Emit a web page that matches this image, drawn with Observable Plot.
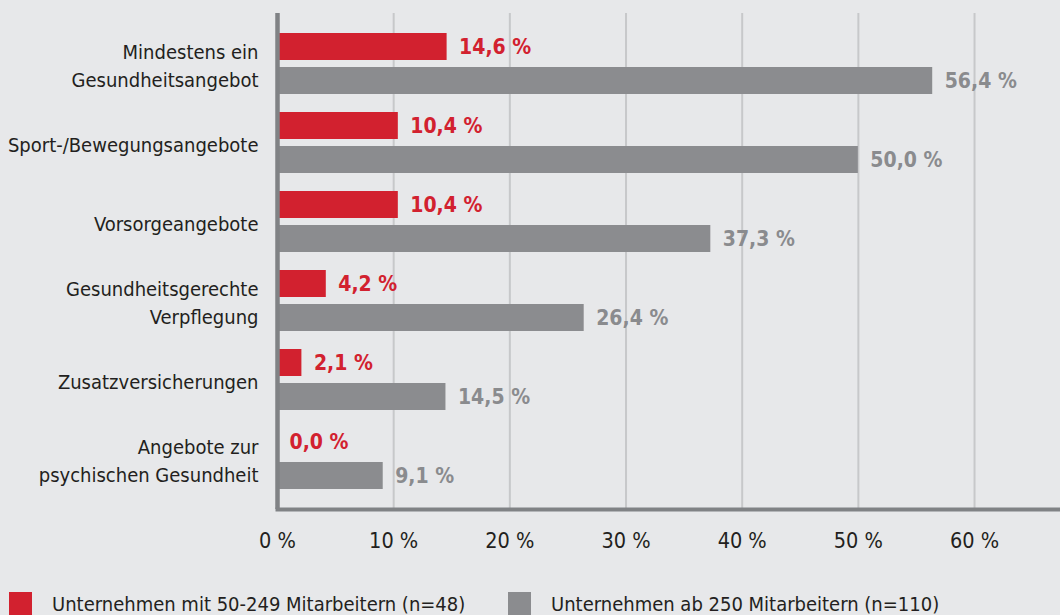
<!DOCTYPE html>
<html>
<head>
<meta charset="utf-8">
<script src="https://cdn.jsdelivr.net/npm/d3@7"></script>
<script src="https://cdn.jsdelivr.net/npm/@observablehq/plot@0.6"></script>
<style>
  html, body { margin: 0; padding: 0; background: #e7e8ea; }
  body { width: 1060px; height: 615px; overflow: hidden; position: relative; font-family: "DejaVu Sans Condensed", "DejaVu Sans", sans-serif; }
  #legend { position: absolute; left: 0; top: 592px; width: 1060px; height: 23px; }
  .item { position: absolute; top: 0; display: flex; align-items: center; height: 23px; font-size: 20px; color: #231f20; white-space: nowrap; }
  .sw { width: 23px; height: 23px; margin-right: 20px; flex: none; }
</style>
</head>
<body>
<div id="chart"></div>
<div id="legend"></div>
<script>
const categories = [
  "Mindestens ein\nGesundheitsangebot",
  "Sport-/Bewegungsangebote",
  "Vorsorgeangebote",
  "Gesundheitsgerechte\nVerpflegung",
  "Zusatzversicherungen",
  "Angebote zur\npsychischen Gesundheit"
];
const smallCompanies = [14.6, 10.4, 10.4, 4.2, 2.1, 0.0];
const largeCompanies = [56.4, 50.0, 37.3, 26.4, 14.5, 9.1];
const seriesNames = [
  "Unternehmen mit 50-249 Mitarbeitern (n=48)",
  "Unternehmen ab 250 Mitarbeitern (n=110)"
];
const xTicks = [0, 10, 20, 30, 40, 50, 60];

const RED = "#d2212f";
const GRAY = "#8b8c8f";
const GRAY_TEXT = "#8a8b8e";
const AXIS = "#808285";
const GRID = "#c7c8ca";

const small = categories.map((c, i) => ({category: c, value: smallCompanies[i]}));
const large = categories.map((c, i) => ({category: c, value: largeCompanies[i]}));
const fmt = d => d3.format(".1f")(d.value).replace(".", ",") + " %";

const chart = Plot.plot({
  width: 1060,
  height: 580,
  marginLeft: 277,
  marginRight: 0,
  marginTop: 13,
  marginBottom: 71,
  style: {
    background: "transparent",
    fontFamily: "'DejaVu Sans Condensed', 'DejaVu Sans', sans-serif",
    color: "#231f20",
    overflow: "visible"
  },
  x: {domain: [0, 67.4]},
  y: {domain: categories, padding: 0.234},
  marks: [
    Plot.gridX(xTicks.filter(d => d > 0), {stroke: GRID, strokeWidth: 2, strokeOpacity: 1}),
    Plot.barX(small, {x: "value", y: "category", fill: RED, insetBottom: 34}),
    Plot.barX(large, {x: "value", y: "category", fill: GRAY, insetTop: 34}),
    Plot.ruleX([0], {stroke: AXIS, strokeWidth: 4.5}),
    Plot.frame({anchor: "bottom", stroke: AXIS, strokeWidth: 4}),
    Plot.text(small, {x: "value", y: "category", text: fmt, dx: 12, dy: -17, textAnchor: "start",
      fill: RED, fontWeight: "bold", fontSize: 21}),
    Plot.text(large, {x: "value", y: "category", text: fmt, dx: 12, dy: 17, textAnchor: "start",
      fill: GRAY_TEXT, fontWeight: "bold", fontSize: 21}),
    Plot.axisY({tickSize: 0, tickPadding: 19, fontSize: 20, lineHeight: 1.4, label: null, textAnchor: "end"}),
    Plot.axisX(xTicks, {tickSize: 0, tickPadding: 23, fontSize: 21.5, label: null, tickFormat: d => d + " %"})
  ]
});
document.getElementById("chart").appendChild(chart);

const legend = document.getElementById("legend");
const colors = [RED, GRAY];
const lefts = [9, 508];
seriesNames.forEach((name, i) => {
  const it = document.createElement("div");
  it.className = "item";
  it.style.left = lefts[i] + "px";
  const sw = document.createElement("span");
  sw.className = "sw";
  sw.style.background = colors[i];
  const tx = document.createElement("span");
  tx.textContent = name;
  it.appendChild(sw);
  it.appendChild(tx);
  legend.appendChild(it);
});
</script>
</body>
</html>
